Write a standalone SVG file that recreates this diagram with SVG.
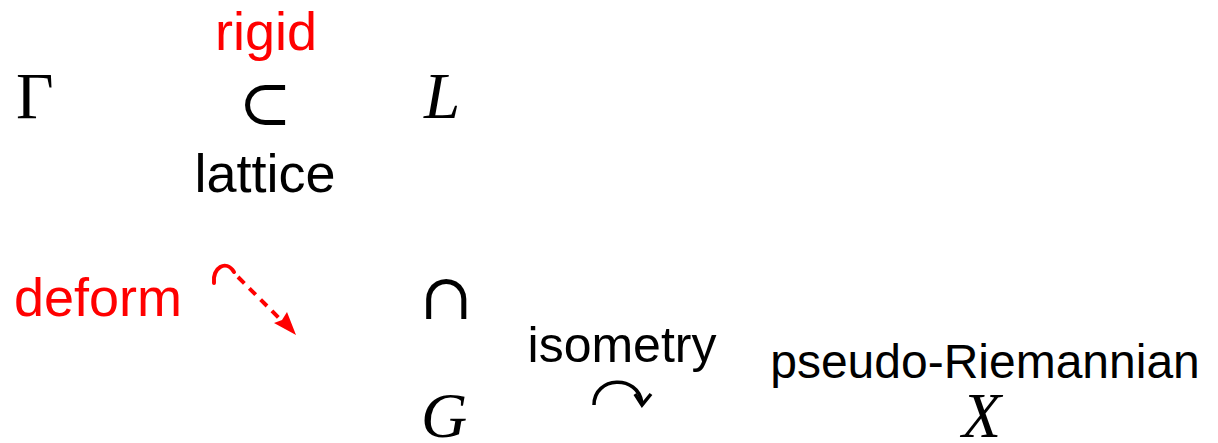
<svg xmlns="http://www.w3.org/2000/svg" width="1218" height="443" viewBox="0 0 1218 443">
<defs>
<style>
.lbl{font-family:"Liberation Sans",Arial,sans-serif;fill:#000}
.red{fill:#ff0000}
.math{font-family:"Liberation Serif","Times New Roman",serif;fill:#000}
.it{font-style:italic}
.sym{font-family:"DejaVu Serif","Liberation Serif",serif;fill:#000}
</style>
</defs>
<rect width="1218" height="443" fill="#fff"/>
<g id="gamma"><text class="math" x="16" y="118" font-size="65">Γ</text></g>
<g id="subset"><text class="lbl red" x="266" y="50" font-size="54" text-anchor="middle">rigid</text>
<text class="sym" x="265" y="125" font-size="64" text-anchor="middle">⊂</text>
<text class="lbl" x="265" y="192" font-size="54" text-anchor="middle">lattice</text></g>
<g id="L"><text class="math it" x="424" y="118" font-size="65">L</text></g>
<g id="cap"><text class="sym" x="446" y="319" font-size="64" text-anchor="middle">∩</text></g>
<g id="G"><text class="math it" x="421" y="437" font-size="64">G</text></g>
<g id="deform"><text class="lbl red" x="14" y="316" font-size="54">deform</text></g>
<g id="isometry"><text class="lbl" x="622" y="362" font-size="50" text-anchor="middle">isometry</text></g>
<g id="X"><text class="lbl" x="985" y="378" font-size="48" text-anchor="middle">pseudo-Riemannian</text>
<text class="math it" x="962" y="437" font-size="64">X</text></g>
<g id="connectors">
<path d="M214,283 C212,268 226,259 234,272" fill="none" stroke="#ff0000" stroke-width="4" stroke-linecap="round"/>
<path d="M238,277 L282,321" fill="none" stroke="#ff0000" stroke-width="4" stroke-dasharray="9,7"/>
<path d="M296,335 L274,323 L282,320 L287,312 Z" fill="#ff0000"/>
<path d="M594,405 C594,376 638,374 642,403" fill="none" stroke="#000" stroke-width="3.5"/>
<path d="M635,394 L642,405 L651,394" fill="none" stroke="#000" stroke-width="3.5"/>
</g>
</svg>
